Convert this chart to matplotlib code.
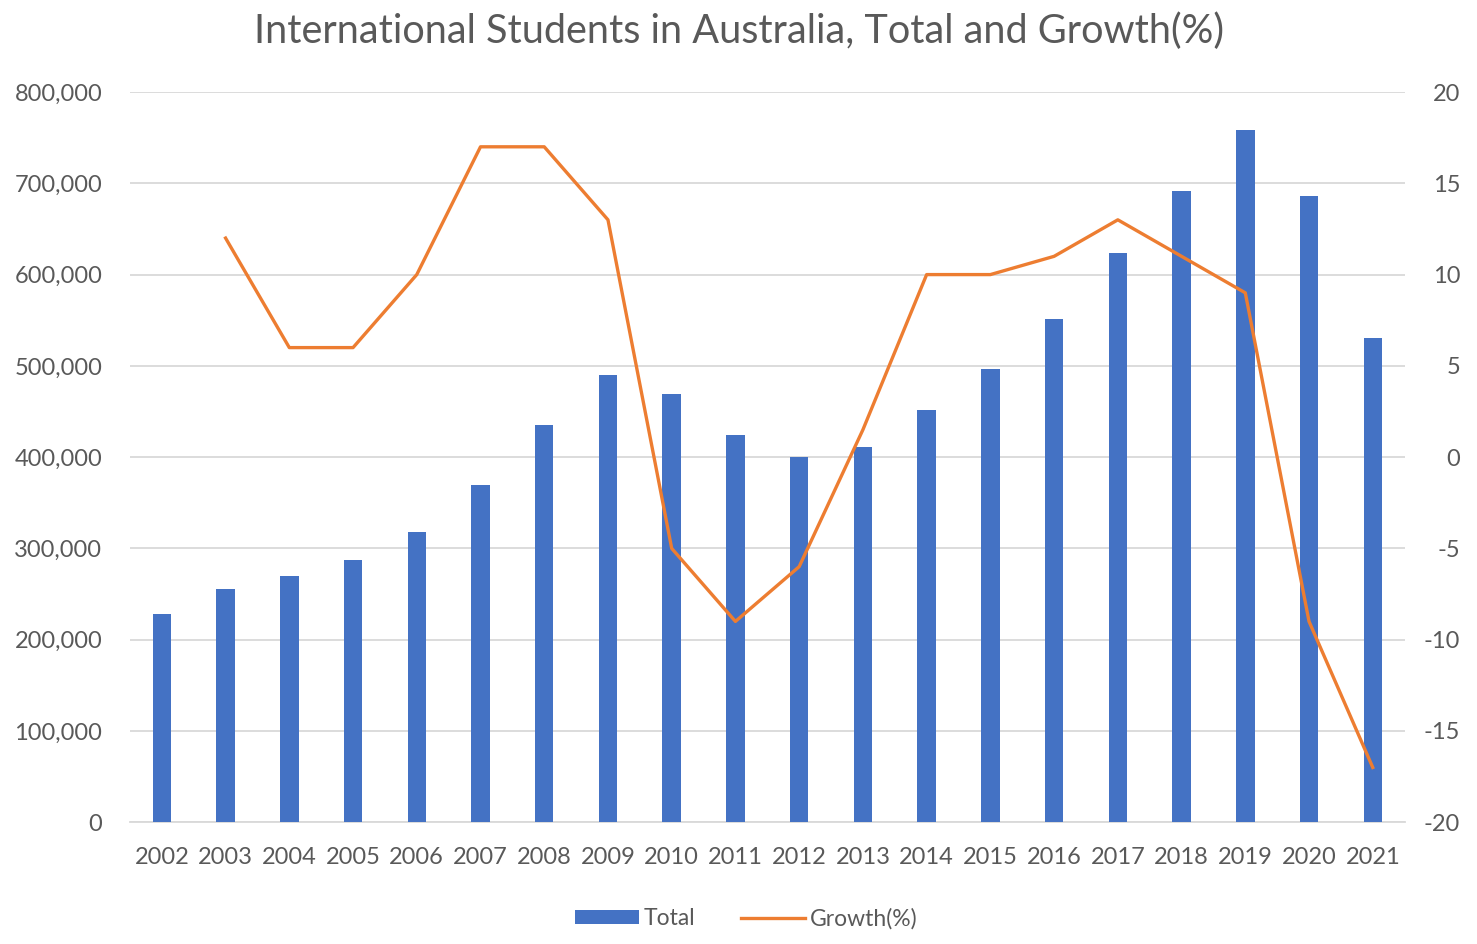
import matplotlib
matplotlib.use('Agg')
import matplotlib.pyplot as plt
from matplotlib.ticker import FuncFormatter

years = [str(y) for y in range(2002, 2022)]
total = [228000, 256000, 270000, 287000, 318000, 369000, 435000, 490000, 469000, 424000,
         400000, 411000, 452000, 497000, 551000, 624000, 692000, 758000, 686000, 530000]
# 2002 has no growth value
growth = [None, 12, 6, 6, 10, 17, 17, 13, -5, -9,
          -6, 1.5, 10, 10, 11, 13, 11, 9, -9, -17]

BAR_COLOR = '#4472C4'
LINE_COLOR = '#ED7D31'
TEXT_COLOR = '#595959'

plt.rcParams['font.family'] = ['Lato', 'DejaVu Sans']
plt.rcParams['axes.unicode_minus'] = False

fig = plt.figure(figsize=(14.77, 9.44), dpi=100)
ax = fig.add_axes([0.088, 0.129, 0.863, 0.7735])
ax2 = ax.twinx()

x = list(range(len(years)))
bars = ax.bar(x, total, width=0.29, color=BAR_COLOR, label='Total', zorder=3)
gx = [i for i, g in zip(x, growth) if g is not None]
gy = [g for g in growth if g is not None]
line, = ax2.plot(gx, gy, color=LINE_COLOR, lw=2.4, label='Growth(%)', zorder=4)

ax.set_xlim(-0.5, len(years) - 0.5)
ax.set_ylim(0, 800000)
ax.set_yticks(range(0, 800001, 100000))
ax.yaxis.set_major_formatter(FuncFormatter(lambda v, p: f'{int(v):,}'))
ax2.set_ylim(-20, 20)
ax2.set_yticks(range(-20, 21, 5))

ax.set_xticks(x)
ax.set_xticklabels(years)
ax.grid(axis='y', color='#D9D9D9', lw=1.3, zorder=0)
ax.set_axisbelow(True)

for a in (ax, ax2):
    for s in a.spines.values():
        s.set_visible(False)
    a.tick_params(length=0, colors=TEXT_COLOR, labelsize=17)
ax.tick_params(axis='x', pad=18)
ax.tick_params(axis='y', pad=20)
ax2.tick_params(axis='y', pad=40)
for lab in ax2.get_yticklabels():
    lab.set_horizontalalignment('right')
ax.spines['bottom'].set_visible(True)
ax.spines['bottom'].set_color('#D9D9D9')
ax.spines['bottom'].set_linewidth(1.3)

fig.suptitle('International Students in Australia, Total and Growth(%)',
             y=0.987, fontsize=28.5, color=TEXT_COLOR)

fig.legend(handles=[bars, line], loc='center', bbox_to_anchor=(0.505, 0.027),
           ncol=2, frameon=False, fontsize=16.5, labelcolor=TEXT_COLOR,
           handlelength=2.8, handleheight=0.6, columnspacing=2.0, handletextpad=0.2)

plt.savefig('out.png', dpi=100)
